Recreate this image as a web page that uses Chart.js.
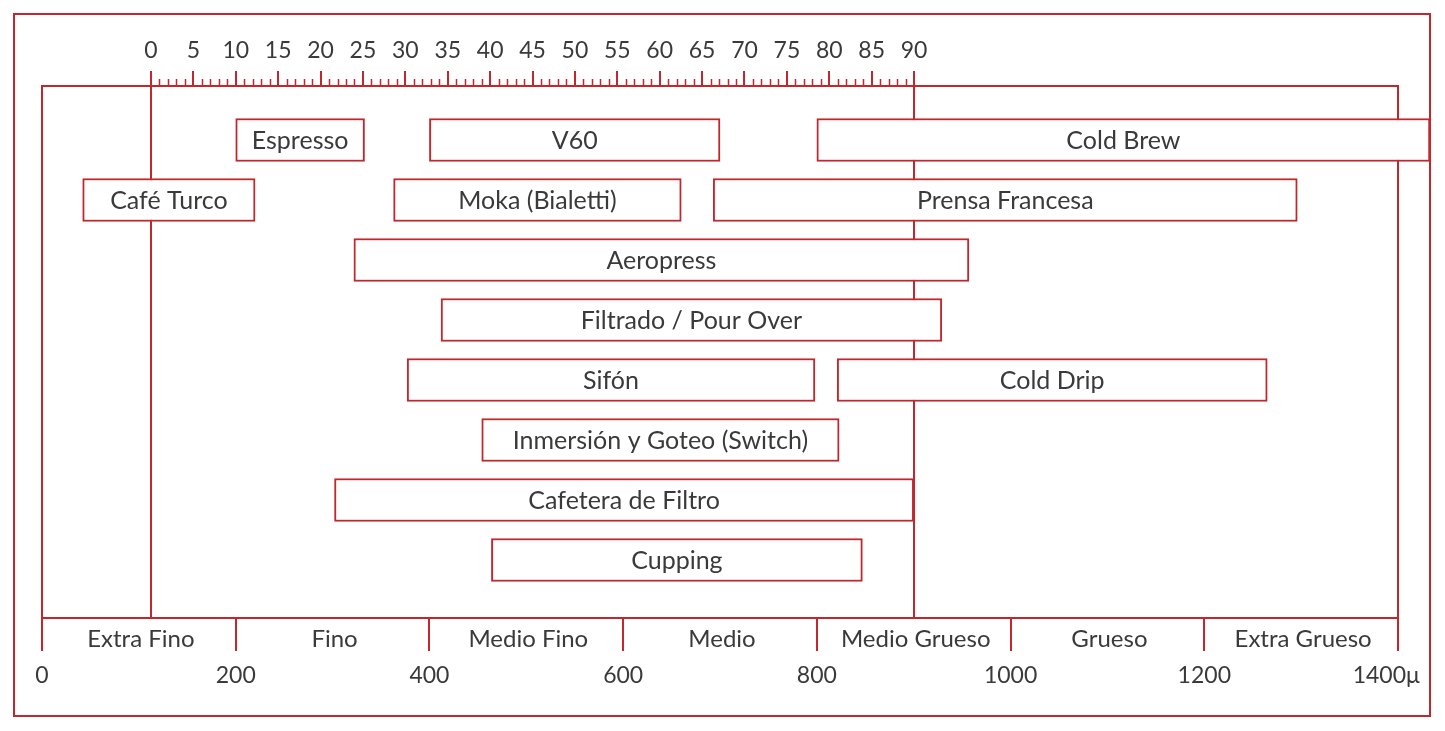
<!DOCTYPE html>
<html>
<head>
<meta charset="utf-8">
<script src="https://cdn.jsdelivr.net/npm/chart.js@4"></script>
<style>
  body { margin: 0; background: #fff; }
  #wrap { width: 1445px; height: 731px; }
</style>
</head>
<body>
<div id="wrap"><canvas id="graph"></canvas></div>
<script>
// metodos de preparacion y su rango de molienda en micras
const metodos = ['Espresso', 'V60', 'Cold Brew', 'Café Turco', 'Moka (Bialetti)', 'Prensa Francesa',
  'Aeropress', 'Filtrado / Pour Over', 'Sifón', 'Cold Drip', 'Inmersión y Goteo (Switch)',
  'Cafetera de Filtro', 'Cupping']
const fila = [0, 0, 0, 1, 1, 1, 2, 3, 4, 4, 5, 6, 7]
const inicio = [200, 400, 800, 42, 363, 693, 322, 412, 377, 821, 454, 302, 464]
const fin = [333, 700, 1433, 220, 660, 1296, 957, 929, 798, 1265, 823, 900, 847]

const molienda = ['Extra Fino', 'Fino', 'Medio Fino', 'Medio', 'Medio Grueso', 'Grueso', 'Extra Grueso']
const micras = [0, 200, 400, 600, 800, 1000, 1200, 1400]
const escalaClicks = [0, 5, 10, 15, 20, 25, 30, 35, 40, 45, 50, 55, 60, 65, 70, 75, 80, 85, 90]

const rojo = '#c1272d'
const texto = '#3a3a3a'
Chart.defaults.font.family = "'Lato', sans-serif"
Chart.defaults.font.size = 22
Chart.defaults.color = texto

const etiquetas = {
  id: 'etiquetas',
  beforeDatasetsDraw(chart) {
    const ctx = chart.ctx, a = chart.chartArea
    ctx.save()
    ctx.strokeStyle = rojo
    ctx.lineWidth = 2
    ctx.beginPath()
    ctx.moveTo(a.left, a.top); ctx.lineTo(a.left, a.bottom)
    ctx.moveTo(a.right, a.top); ctx.lineTo(a.right, a.bottom)
    ctx.stroke()
    // marcas pequeñas de la regla superior
    const x2 = chart.scales.x2
    ctx.lineWidth = 1.5
    ctx.beginPath()
    for (let v = 0; v <= 90; v++) {
      if (v % 5 === 0) continue
      const px = Math.round(x2.getPixelForValue(v)) + 0.5
      ctx.moveTo(px, a.top); ctx.lineTo(px, a.top - 7)
    }
    ctx.stroke()
    ctx.restore()
  },
  afterDatasetsDraw(chart) {
    const ctx = chart.ctx, a = chart.chartArea
    ctx.save()
    ctx.fillStyle = texto
    ctx.font = "25px 'Lato', sans-serif"
    ctx.textAlign = 'center'
    ctx.textBaseline = 'middle'
    chart.getDatasetMeta(0).data.forEach((bar, i) => {
      ctx.fillText(metodos[i], (bar.x + bar.base) / 2, bar.y + 1)
    })
    ctx.font = "24px 'Lato', sans-serif"
    const x = chart.scales.x
    molienda.forEach((m, i) => {
      ctx.fillText(m, x.getPixelForValue(micras[i] + 100) + 2, a.bottom + 21)
    })
    ctx.restore()
  },
  afterDraw(chart) {
    const ctx = chart.ctx
    ctx.save()
    ctx.strokeStyle = rojo
    ctx.lineWidth = 2
    ctx.strokeRect(14, 14, chart.width - 29, chart.height - 29)
    ctx.restore()
  }
}

new Chart(document.getElementById('graph'), {
  type: 'bar',
  data: {
    datasets: [{
      label: 'Molienda',
      data: metodos.map((m, i) => ({ x: [inicio[i], fin[i]], y: fila[i] })),
      backgroundColor: '#ffffff',
      borderColor: rojo,
      borderWidth: 2,
      borderSkipped: false,
      barThickness: 43,
      clip: false
    }]
  },
  options: {
    indexAxis: 'y',
    responsive: true,
    maintainAspectRatio: false,
    animation: false,
    layout: { padding: { left: 42, right: 47, top: 0, bottom: 0 } },
    plugins: { legend: { display: false }, tooltip: { enabled: false } },
    scales: {
      y: {
        type: 'linear',
        display: false,
        offset: false,
        reverse: true,
        min: -0.9,
        max: 7.967
      },
      x: {
        type: 'linear',
        position: 'bottom',
        min: 0,
        max: 1400,
        afterBuildTicks: s => { s.ticks = micras.map(v => ({ value: v })) },
        afterFit: s => { s.height = 113; s.paddingLeft = 0; s.paddingRight = 0 },
        ticks: {
          padding: 11,
          font: { size: 23 },
          callback: v => v === 1400 ? '1400μ\u00a0\u00a0\u00a0\u00a0' : String(v)
        },
        grid: { drawOnChartArea: false, tickLength: 33, tickColor: rojo, lineWidth: 2 },
        border: { color: rojo, width: 2 }
      },
      x2: {
        type: 'linear',
        position: 'top',
        min: -12.857,
        max: 147.08,
        afterBuildTicks: s => { s.ticks = escalaClicks.map(v => ({ value: v })) },
        afterFit: s => { s.height = 86; s.paddingLeft = 0; s.paddingRight = 0 },
        ticks: { padding: 7, font: { size: 23 } },
        grid: {
          drawOnChartArea: true,
          color: c => (c.tick && (c.tick.value === 0 || c.tick.value === 90)) ? rojo : 'rgba(0,0,0,0)',
          tickColor: rojo,
          tickLength: 15,
          lineWidth: 2
        },
        border: { color: rojo, width: 2 }
      }
    }
  },
  plugins: [etiquetas]
})
</script>
</body>
</html>
